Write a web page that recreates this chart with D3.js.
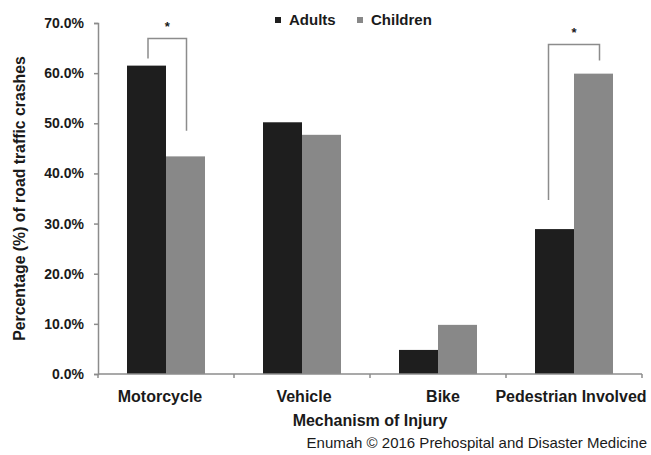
<!DOCTYPE html>
<html>
<head>
<meta charset="utf-8">
<script src="https://cdn.jsdelivr.net/npm/d3@7"></script>
<style>
  html, body { margin: 0; padding: 0; background: #fff; }
  svg { display: block; font-family: "Liberation Sans", Arial, sans-serif; }
</style>
</head>
<body>
<svg id="chart" width="651" height="455"></svg>
<script>
// Mechanism of injury in road traffic crashes, adults vs children (%)
const categories = ["Motorcycle", "Vehicle", "Bike", "Pedestrian Involved"];
const seriesNames = ["Adults", "Children"];
const adults = [61.5, 50.2, 4.8, 28.9];
const children = [43.4, 47.7, 9.8, 59.9];
const yTicks = [0, 10, 20, 30, 40, 50, 60, 70];
const yTickLabels = ["0.0%", "10.0%", "20.0%", "30.0%", "40.0%", "50.0%", "60.0%", "70.0%"];
// significance brackets: category, top of bracket, bottom of left leg, bottom of right leg (%)
const sigCategories = ["Motorcycle", "Pedestrian Involved"];
const sigTop = [66.9, 65.7];
const sigLeftEnd = [62.9, 34.7];
const sigRightEnd = [48.5, 62.5];

const colors = { Adults: "#1e1e1e", Children: "#888888" };
const axisColor = "#8c8c8c";
const textColor = "#1a1a1a";

const svg = d3.select("#chart");
const plot = { left: 98, right: 642, top: 23, bottom: 374 };

const x0 = d3.scaleBand().domain(categories).range([plot.left, plot.right]).padding(0);
const groupW = 78;
const x1 = d3.scaleBand().domain(seriesNames)
  .range([(x0.bandwidth() - groupW) / 2, (x0.bandwidth() + groupW) / 2]).padding(0);
const y = d3.scaleLinear().domain([0, 70]).range([plot.bottom, plot.top]);

// Y axis
const yAxis = d3.axisLeft(y).tickValues(yTicks)
  .tickFormat((d, i) => yTickLabels[i]).tickSize(4).tickPadding(10);
const gy = svg.append("g").attr("transform", `translate(${plot.left},0)`).call(yAxis);
gy.select(".domain").attr("stroke", axisColor).attr("stroke-width", 1.5);
gy.selectAll(".tick line").attr("stroke", axisColor).attr("stroke-width", 1.5);
gy.selectAll(".tick text").attr("fill", textColor)
  .style("font-size", "14px").style("font-weight", "bold");

// Bars
const rows = categories.map((c, i) => ({ cat: c, values: [
  { key: "Adults", v: adults[i] }, { key: "Children", v: children[i] } ] }));

const groups = svg.append("g").selectAll("g").data(rows).join("g")
  .attr("transform", d => `translate(${x0(d.cat)},0)`);
groups.selectAll("rect").data(d => d.values).join("rect")
  .attr("x", d => x1(d.key))
  .attr("width", x1.bandwidth())
  .attr("y", d => y(d.v))
  .attr("height", d => y(0) - y(d.v))
  .attr("fill", d => colors[d.key]);

// X axis: baseline with ticks at category boundaries
const gx = svg.append("g");
gx.append("line").attr("x1", plot.left).attr("x2", plot.right)
  .attr("y1", y(0)).attr("y2", y(0))
  .attr("stroke", axisColor).attr("stroke-width", 1.5);
const bounds = categories.map(c => x0(c)).concat([x0.range()[1]]);
gx.selectAll("line.tk").data(bounds).join("line").attr("class", "tk")
  .attr("x1", d => d).attr("x2", d => d)
  .attr("y1", y(0)).attr("y2", y(0) + 4)
  .attr("stroke", axisColor).attr("stroke-width", 1.5);
const labelShift = [-6, 2, 5, -3];
gx.selectAll("text").data(categories).join("text")
  .attr("x", (d, i) => x0(d) + x0.bandwidth() / 2 + labelShift[i])
  .attr("y", 402)
  .attr("text-anchor", "middle")
  .attr("fill", textColor)
  .style("font-size", "16px").style("font-weight", "bold")
  .text(d => d);

// Axis titles
svg.append("text")
  .attr("transform", `translate(25,${(plot.top + plot.bottom) / 2}) rotate(-90)`)
  .attr("text-anchor", "middle")
  .attr("fill", textColor)
  .style("font-size", "15.8px").style("font-weight", "bold")
  .text("Percentage (%) of road traffic crashes");

svg.append("text")
  .attr("x", 370).attr("y", 426)
  .attr("text-anchor", "middle")
  .attr("fill", textColor)
  .style("font-size", "16px").style("font-weight", "bold")
  .text("Mechanism of Injury");

svg.append("text")
  .attr("x", 647).attr("y", 448)
  .attr("text-anchor", "end")
  .attr("fill", textColor)
  .style("font-size", "15px")
  .text("Enumah \u00A9 2016 Prehospital and Disaster Medicine");

// Legend
const legend = svg.append("g");
const legendX = [275, 357];
seriesNames.forEach((s, i) => {
  legend.append("rect").attr("x", legendX[i]).attr("y", 17).attr("width", 6).attr("height", 6)
    .attr("fill", colors[s]);
  legend.append("text").attr("x", legendX[i] + 14).attr("y", 25)
    .attr("fill", textColor)
    .style("font-size", "15px").style("font-weight", "bold")
    .text(s);
});

// Significance brackets
const legSpread = [[1.5, 1], [-6, 6]];
const brackets = svg.append("g");
sigCategories.forEach((c, i) => {
  const xl = x0(c) + x1("Adults") + x1.bandwidth() / 2 + legSpread[i][0];
  const xr = x0(c) + x1("Children") + x1.bandwidth() / 2 + legSpread[i][1];
  const path = d3.path();
  path.moveTo(xl, y(sigLeftEnd[i]));
  path.lineTo(xl, y(sigTop[i]));
  path.lineTo(xr, y(sigTop[i]));
  path.lineTo(xr, y(sigRightEnd[i]));
  brackets.append("path").attr("d", path.toString())
    .attr("fill", "none").attr("stroke", axisColor).attr("stroke-width", 1.5);
  brackets.append("text")
    .attr("x", (xl + xr) / 2).attr("y", y(sigTop[i]) - 8)
    .attr("text-anchor", "middle")
    .attr("fill", textColor)
    .style("font-size", "13px").style("font-weight", "bold")
    .text("*");
});
</script>
</body>
</html>
